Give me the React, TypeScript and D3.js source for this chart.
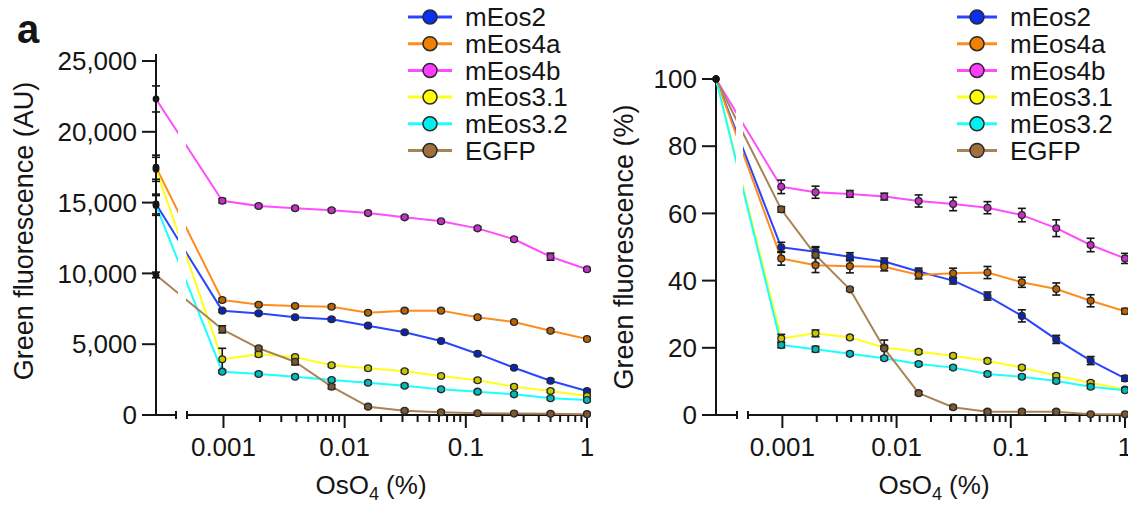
import { useEffect, useRef } from "react"
import * as d3 from "d3"

// OsO4 concentration (%), twofold dilution series
const doses = [0.000977, 0.00195, 0.0039, 0.0078, 0.0156, 0.03125, 0.0625, 0.125, 0.25, 0.5, 1]
const doseTicks = [0.001, 0.01, 0.1, 1]
const doseTickLabels = ["0.001", "0.01", "0.1", "1"]

const proteins = ["mEos2", "mEos4a", "mEos4b", "mEos3.1", "mEos3.2", "EGFP"]
const lineColors = ["#2a45ff", "#ff8c1f", "#ff4cff", "#ffff1a", "#1affff", "#a98456"]
const dotColors = ["#0a2ff0", "#f28000", "#ff3cff", "#ffff00", "#00f0f0", "#a0703c"]

// left panel: green fluorescence (AU)
const absTicks = [0, 5000, 10000, 15000, 20000, 25000]
const absUntreated = [14900, 17500, 22320, 17350, 14800, 9890]
const absUntreatedErr = [700, 850, 920, 850, 700, 200]
const absMEos2 = [7370, 7180, 6900, 6760, 6310, 5840, 5230, 4330, 3340, 2420, 1690]
const absMEos4a = [8120, 7790, 7700, 7650, 7220, 7370, 7370, 6900, 6570, 5950, 5370]
const absMEos4b = [15130, 14760, 14600, 14460, 14260, 13960, 13680, 13180, 12410, 11180, 10290]
const absMEos31 = [3930, 4290, 4100, 3510, 3300, 3090, 2750, 2450, 2000, 1690, 1340]
const absMEos32 = [3060, 2900, 2700, 2470, 2280, 2070, 1810, 1650, 1460, 1180, 1060]
const absEGFP = [6050, 4710, 3760, 2000, 590, 300, 190, 120, 100, 80, 60]
const absErrMEos2 = [100, 100, 100, 100, 100, 100, 100, 100, 100, 120, 100]
const absErrMEos4a = [120, 100, 100, 100, 100, 100, 100, 100, 100, 100, 100]
const absErrMEos4b = [150, 100, 100, 100, 100, 100, 100, 100, 100, 250, 100]
const absErrMEos31 = [780, 150, 100, 100, 100, 100, 100, 100, 100, 100, 100]
const absErrMEos32 = [100, 100, 100, 100, 100, 100, 100, 100, 100, 100, 100]
const absErrEGFP = [250, 100, 220, 150, 100, 100, 100, 100, 100, 100, 100]

// right panel: green fluorescence (%) of untreated
const relTicks = [0, 20, 40, 60, 80, 100]
const relUntreated = [100, 100, 100, 100, 100, 100]
const relMEos2 = [49.9, 48.6, 47.1, 45.7, 42.7, 40.0, 35.4, 29.5, 22.5, 16.2, 10.9]
const relMEos4a = [46.6, 44.6, 44.3, 44.1, 41.7, 42.2, 42.4, 39.5, 37.5, 34.0, 30.9]
const relMEos4b = [67.9, 66.3, 65.8, 65.0, 63.7, 62.8, 61.7, 59.5, 55.6, 50.6, 46.6]
const relMEos31 = [22.8, 24.3, 23.1, 20.1, 18.8, 17.6, 16.1, 14.1, 11.7, 9.6, 7.6]
const relMEos32 = [20.8, 19.6, 18.2, 16.9, 15.2, 14.1, 12.2, 11.4, 10.1, 8.4, 7.4]
const relEGFP = [61.2, 47.6, 37.4, 19.8, 6.5, 2.3, 1.0, 1.0, 1.0, 0.2, 0.2]
const relErrMEos2 = [1.5, 1.2, 1.2, 1.0, 1.0, 1.0, 1.2, 1.8, 1.2, 1.2, 0.8]
const relErrMEos4a = [2.0, 2.2, 2.0, 1.2, 1.2, 1.5, 1.8, 1.5, 1.8, 1.8, 0.8]
const relErrMEos4b = [2.0, 1.8, 1.0, 1.0, 1.8, 2.0, 1.8, 2.0, 2.5, 2.0, 1.5]
const relErrMEos31 = [1.2, 1.0, 0.5, 0.5, 0.5, 0.5, 0.5, 0.5, 0.5, 0.5, 0.5]
const relErrMEos32 = [0.8, 0.8, 0.5, 0.5, 0.5, 0.5, 0.5, 0.5, 0.5, 0.5, 0.5]
const relErrEGFP = [0.8, 2.5, 0.5, 2.5, 0.5, 0.5, 0.5, 0.5, 0.5, 0.3, 0.3]

const FONT = "'Liberation Sans', Arial, Helvetica, sans-serif"
const INK = "#151515"

const panels = [
    {
        yLabel: "Green fluorescence (AU)",
        ticks: absTicks,
        tickFormat: d3.format(","),
        yMax: 25000,
        untreated: absUntreated,
        untreatedErr: absUntreatedErr,
        values: [absMEos2, absMEos4a, absMEos4b, absMEos31, absMEos32, absEGFP],
        errors: [absErrMEos2, absErrMEos4a, absErrMEos4b, absErrMEos31, absErrMEos32, absErrEGFP],
        yAxisX: 156,
        xRange: [187, 587],
        yRange: [415, 61],
        axisBreak: 176,
        lineGap: [178, 186],
        yLabelPos: [33, 231],
        xLabelX: 371,
        legendX: 408,
        legendTextX: 465,
    },
    {
        yLabel: "Green fluorescence (%)",
        ticks: relTicks,
        tickFormat: d3.format("d"),
        yMax: 100,
        untreated: relUntreated,
        untreatedErr: [0, 0, 0, 0, 0, 0],
        values: [relMEos2, relMEos4a, relMEos4b, relMEos31, relMEos32, relEGFP],
        errors: [relErrMEos2, relErrMEos4a, relErrMEos4b, relErrMEos31, relErrMEos32, relErrEGFP],
        yAxisX: 716,
        xRange: [748, 1125],
        yRange: [415, 79],
        axisBreak: 737,
        lineGap: [736, 743],
        yLabelPos: [633, 247],
        xLabelX: 934,
        legendX: 957,
        legendTextX: 1010,
    },
]

export default function App() {
    const ref = useRef<SVGSVGElement | null>(null)

    useEffect(() => {
        const svg = d3.select(ref.current)
        svg.selectAll("*").remove()

        svg.append("text")
            .attr("x", 17)
            .attr("y", 43)
            .attr("font-family", FONT)
            .attr("font-size", 40)
            .attr("font-weight", 700)
            .attr("fill", INK)
            .text("a")

        panels.forEach((p, pi) => drawPanel(svg, p, pi))
    }, [])

    return (
        <svg
            ref={ref}
            width={1128}
            height={505}
            style={{ position: "absolute", left: 0, top: 0, background: "#fff" }}
        />
    )
}

function drawPanel(svg: any, p: any, pi: number) {
    const x = d3.scaleLog().domain([0.0005, 1]).range(p.xRange)
    const y = d3.scaleLinear().domain([0, p.yMax]).range(p.yRange)
    const axisY = p.yRange[0]
    const g = svg.append("g").attr("font-family", FONT).attr("fill", INK)

    // clip that cuts lines where the x axis is broken
    const clipId = `gap-${pi}`
    const clip = svg.append("defs").append("clipPath").attr("id", clipId)
    clip.append("rect").attr("x", 0).attr("y", 0).attr("width", p.lineGap[0]).attr("height", 505)
    clip.append("rect").attr("x", p.lineGap[1]).attr("y", 0).attr("width", 1128 - p.lineGap[1]).attr("height", 505)

    // y axis
    g.append("line")
        .attr("x1", p.yAxisX).attr("x2", p.yAxisX)
        .attr("y1", axisY).attr("y2", y(p.yMax) - (pi === 0 ? 7 : 0))
        .attr("stroke", INK).attr("stroke-width", 2)

    p.ticks.forEach((t: number) => {
        g.append("line")
            .attr("x1", p.yAxisX - 14).attr("x2", p.yAxisX)
            .attr("y1", y(t)).attr("y2", y(t))
            .attr("stroke", INK).attr("stroke-width", 2)
        g.append("text")
            .attr("x", p.yAxisX - 19)
            .attr("y", y(t))
            .attr("dy", "0.35em")
            .attr("text-anchor", "end")
            .attr("font-size", 26)
            .text(p.tickFormat(t))
    })

    g.append("text")
        .attr("transform", `translate(${p.yLabelPos[0]},${p.yLabelPos[1]}) rotate(-90)`)
        .attr("text-anchor", "middle")
        .attr("font-size", 27)
        .text(p.yLabel)

    // x axis, broken: short stub under the untreated point, then the log axis
    g.append("line")
        .attr("x1", p.yAxisX - 14).attr("x2", p.axisBreak)
        .attr("y1", axisY).attr("y2", axisY)
        .attr("stroke", INK).attr("stroke-width", 2)
    g.append("line")
        .attr("x1", p.xRange[0]).attr("x2", p.xRange[1])
        .attr("y1", axisY).attr("y2", axisY)
        .attr("stroke", INK).attr("stroke-width", 2)
    ;[p.axisBreak, p.xRange[0]].forEach(cx => {
        g.append("line")
            .attr("x1", cx).attr("x2", cx)
            .attr("y1", axisY - 4).attr("y2", axisY + 4)
            .attr("stroke", INK).attr("stroke-width", 2)
    })

    const minor = x.ticks().filter(t => t >= 0.001 && t <= 1)
    minor.forEach(t => {
        const major = doseTicks.some(m => Math.abs(m - t) / m < 1e-6)
        g.append("line")
            .attr("x1", x(t)).attr("x2", x(t))
            .attr("y1", axisY).attr("y2", axisY + (major ? 13 : 7))
            .attr("stroke", INK).attr("stroke-width", 2)
    })

    doseTicks.forEach((t, i) => {
        g.append("text")
            .attr("x", x(t))
            .attr("y", 456)
            .attr("text-anchor", "middle")
            .attr("font-size", 26)
            .text(doseTickLabels[i])
    })

    const xl = g.append("text")
        .attr("x", p.xLabelX)
        .attr("y", 494)
        .attr("text-anchor", "middle")
        .attr("font-size", 26)
    xl.append("tspan").text("OsO")
    xl.append("tspan").attr("dy", 6).attr("font-size", 18).text("4")
    xl.append("tspan").attr("dy", -6).text(" (%)")

    // lines
    const line = d3.line<[number, number]>()
    const lines = g.append("g").attr("clip-path", `url(#${clipId})`)
    p.values.forEach((vals: number[], si: number) => {
        const pts: [number, number][] = [[p.yAxisX, y(p.untreated[si])]]
        vals.forEach((v, i) => pts.push([x(doses[i]), y(v)]))
        lines.append("path")
            .attr("d", line(pts))
            .attr("fill", "none")
            .attr("stroke", lineColors[si])
            .attr("stroke-width", 2)
            .attr("stroke-linejoin", "round")
    })

    // error bars
    const errG = g.append("g").attr("stroke", INK).attr("stroke-width", 1.6)
    const errBar = (cx: number, v: number, e: number) => {
        if (!e) return
        const y0 = y(v - e), y1 = y(v + e)
        errG.append("line").attr("x1", cx).attr("x2", cx).attr("y1", y0).attr("y2", y1)
        errG.append("line").attr("x1", cx - 4).attr("x2", cx + 4).attr("y1", y0).attr("y2", y0)
        errG.append("line").attr("x1", cx - 4).attr("x2", cx + 4).attr("y1", y1).attr("y2", y1)
    }
    p.values.forEach((vals: number[], si: number) => {
        errBar(p.yAxisX, p.untreated[si], p.untreatedErr[si])
        vals.forEach((v, i) => errBar(x(doses[i]), v, p.errors[si][i]))
    })

    // markers
    p.values.forEach((vals: number[], si: number) => {
        const fill = d3.color(dotColors[si])!.darker(0.7).formatHex()
        g.append("g")
            .selectAll("circle")
            .data(vals)
            .join("circle")
            .attr("cx", (_: number, i: number) => x(doses[i]))
            .attr("cy", (v: number) => y(v))
            .attr("r", 3.4)
            .attr("fill", fill)
            .attr("stroke", "#2a2a2a")
            .attr("stroke-width", 1.3)
    })
    g.append("g")
        .selectAll("circle")
        .data(p.untreated)
        .join("circle")
        .attr("cx", p.yAxisX)
        .attr("cy", (v: number) => y(v))
        .attr("r", 3.4)
        .attr("fill", INK)

    // legend
    const leg = g.append("g")
    proteins.forEach((name, i) => {
        const ly = 17 + i * 26.7
        const lx = p.legendX
        const lw = p.legendTextX - 13 - lx
        leg.append("line")
            .attr("x1", lx).attr("x2", lx + lw)
            .attr("y1", ly).attr("y2", ly)
            .attr("stroke", lineColors[i])
            .attr("stroke-width", 3)
        leg.append("circle")
            .attr("cx", lx + lw / 2)
            .attr("cy", ly)
            .attr("r", 7)
            .attr("fill", dotColors[i])
            .attr("stroke", "#2a2a2a")
            .attr("stroke-width", 1.5)
        leg.append("text")
            .attr("x", p.legendTextX)
            .attr("y", ly)
            .attr("dy", "0.36em")
            .attr("font-size", 26)
            .text(name)
    })
}
